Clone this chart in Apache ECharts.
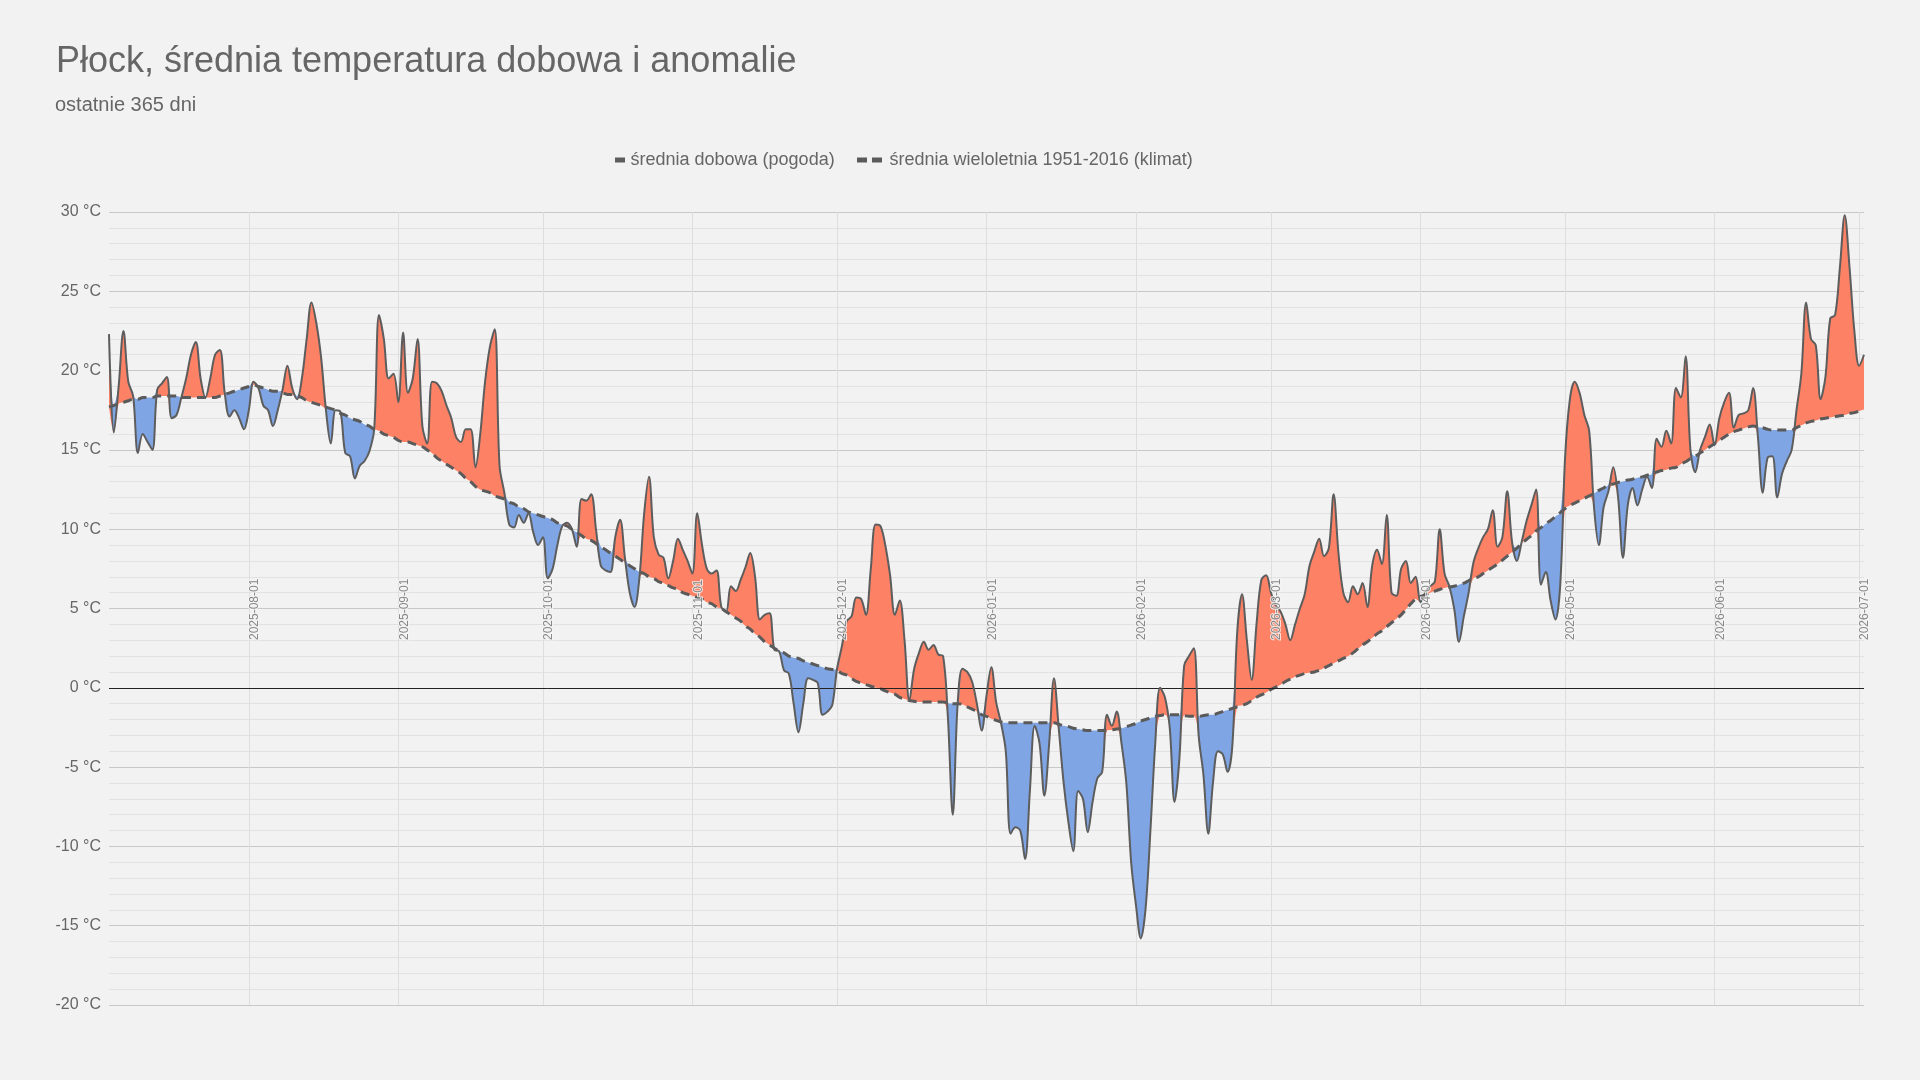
<!DOCTYPE html>
<html>
<head>
<meta charset="utf-8">
<title>Płock, średnia temperatura dobowa i anomalie</title>
<script src="https://cdn.jsdelivr.net/npm/echarts@6/dist/echarts.min.js"></script>
<style>
  html, body { margin: 0; padding: 0; background: #f2f2f2; }
  #chart { width: 1920px; height: 1080px; }
</style>
</head>
<body>
<div id="chart"></div>
<script>
// first day of the series, one value per day after it
const startDate = '2025-07-03';

// daily mean temperature (°C), 10 values per row
const dailyTemp = [
  22.3, 16.1, 19.0, 22.5, 19.3, 18.4, 14.8, 16.0, 15.5, 15.0,
  18.8, 19.2, 19.6, 17.0, 17.2, 18.3, 19.5, 21.0, 21.8, 19.5,
  18.3, 19.5, 21.0, 21.3, 18.6, 17.1, 17.5, 17.0, 16.3, 17.5,
  19.3, 18.9, 17.8, 17.5, 16.5, 17.5, 18.8, 20.3, 18.9, 18.2,
  19.5, 22.0, 24.3, 23.0, 20.8, 17.5, 15.4, 17.5, 17.4, 14.8,
  14.6, 13.2, 14.0, 14.3, 14.9, 16.3, 23.5, 22.0, 19.5, 19.8,
  18.0, 22.4, 18.6, 19.5, 22.0, 16.5, 15.4, 19.3, 19.2, 18.7,
  17.8, 17.0, 15.8, 15.5, 16.3, 16.3, 13.9, 16.0, 19.3, 21.5,
  22.6, 14.0, 12.3, 10.3, 10.1, 10.9, 10.4, 11.0, 9.8, 9.0,
  9.5, 6.9, 7.5, 9.0, 10.2, 10.4, 10.0, 8.9, 11.9, 11.8,
  12.2, 10.0, 7.7, 7.4, 7.3, 9.5, 10.6, 8.2, 6.0, 5.1,
  6.9, 11.0, 13.3, 9.5, 8.4, 8.2, 6.9, 8.0, 9.4, 8.7,
  8.0, 7.2, 11.0, 9.0, 7.5, 7.2, 7.4, 5.1, 4.8, 6.4,
  6.1, 6.8, 7.6, 8.5, 7.0, 4.3, 4.6, 4.7, 2.4, 2.3,
  1.1, 0.9, -1.0, -2.8, -1.0, 0.6, 0.5, 0.3, -1.7, -1.5,
  -1.1, 1.2, 2.6, 4.2, 4.5, 5.7, 5.6, 4.6, 7.5, 10.3,
  10.2, 9.0, 7.1, 4.6, 5.5, 3.0, -0.8, 1.2, 2.2, 2.9,
  2.4, 2.7, 2.1, 2.0, -1.9, -8.0, -1.1, 1.2, 1.0, 0.4,
  -1.0, -2.7, -0.5, 1.3, -0.9, -2.2, -4.0, -9.2, -8.8, -9.0,
  -10.8, -6.5, -2.4, -3.5, -6.8, -3.5, 0.6, -2.6, -6.0, -8.5,
  -10.3, -6.5, -7.0, -9.1, -7.2, -5.7, -5.3, -1.7, -2.4, -1.5,
  -3.5, -6.0, -11.0, -13.7, -15.8, -13.9, -9.0, -3.5, 0.0, -0.6,
  -2.5, -7.2, -4.5, 1.4, 2.0, 2.5, -3.0, -5.5, -9.2, -5.9,
  -4.0, -4.2, -5.3, -3.6, 3.5, 5.9, 3.0, 0.5, 4.0, 6.8,
  7.1, 6.0, 5.2, 4.8, 4.0, 3.0, 4.0, 5.0, 5.9, 7.7,
  8.6, 9.4, 8.3, 8.8, 12.2, 8.5, 6.0, 5.4, 6.4, 5.9,
  6.6, 5.1, 7.7, 8.7, 7.8, 10.9, 6.0, 5.8, 7.5, 8.0,
  6.6, 7.0, 5.4, 6.0, 6.4, 6.7, 10.0, 7.2, 6.4, 5.0,
  2.9, 4.5, 6.0, 7.9, 8.8, 9.5, 10.0, 11.2, 8.9, 9.5,
  12.4, 9.2, 8.0, 9.2, 10.5, 11.5, 12.5, 6.5, 7.3, 5.5,
  4.3, 6.5, 14.5, 18.2, 19.3, 18.6, 17.2, 16.2, 11.4, 9.0,
  11.4, 12.4, 13.9, 12.0, 8.2, 11.5, 12.6, 11.5, 12.5, 13.3,
  12.6, 15.7, 15.2, 16.2, 15.4, 18.9, 18.3, 20.9, 15.0, 13.6,
  15.0, 15.8, 16.6, 15.3, 17.0, 18.0, 18.6, 16.4, 17.2, 17.3,
  17.5, 18.9, 15.8, 12.3, 14.5, 14.6, 12.0, 13.5, 14.3, 15.0,
  17.5, 19.8, 24.3, 22.0, 21.6, 18.2, 19.6, 23.3, 23.5, 26.5,
  29.8, 26.5, 22.5, 20.3, 21.0
];

// long-term mean 1951-2016 (°C) for the same days
const climateTemp = [
  17.7, 17.8, 17.9, 18.0, 18.1, 18.2, 18.2, 18.3, 18.3, 18.3,
  18.4, 18.4, 18.4, 18.4, 18.4, 18.3, 18.3, 18.3, 18.3, 18.3,
  18.3, 18.3, 18.3, 18.4, 18.5, 18.6, 18.7, 18.8, 18.9, 19.0,
  19.1, 19.0, 18.9, 18.8, 18.7, 18.7, 18.6, 18.5, 18.5, 18.4,
  18.3, 18.1, 18.0, 17.9, 17.8, 17.7, 17.6, 17.5, 17.3, 17.2,
  17.0, 16.9, 16.8, 16.6, 16.5, 16.3, 16.2, 16.0, 15.9, 15.8,
  15.6, 15.5, 15.5, 15.4, 15.3, 15.2, 15.0, 14.8, 14.5, 14.3,
  14.1, 13.9, 13.7, 13.5, 13.2, 13.0, 12.7, 12.5, 12.4, 12.3,
  12.1, 12.0, 11.9, 11.7, 11.6, 11.4, 11.3, 11.1, 11.0, 10.9,
  10.8, 10.7, 10.6, 10.4, 10.3, 10.2, 10.0, 9.8, 9.6, 9.4,
  9.3, 9.1, 8.9, 8.7, 8.5, 8.3, 8.1, 7.9, 7.7, 7.5,
  7.3, 7.2, 7.0, 6.9, 6.7, 6.6, 6.45, 6.3, 6.2, 6.0,
  5.9, 5.8, 5.7, 5.6, 5.4, 5.3, 5.1, 5.0, 4.8, 4.6,
  4.4, 4.2, 3.9, 3.7, 3.4, 3.2, 2.9, 2.7, 2.5, 2.3,
  2.2, 2.0, 1.9, 1.85, 1.7, 1.6, 1.5, 1.4, 1.3, 1.2,
  1.15, 1.1, 0.9, 0.8, 0.6, 0.4, 0.3, 0.2, 0.1, 0.0,
  -0.05, -0.2, -0.3, -0.4, -0.6, -0.7, -0.8, -0.85, -0.9, -0.9,
  -0.9, -0.9, -0.9, -0.9, -0.95, -1.0, -1.0, -1.05, -1.2, -1.35,
  -1.5, -1.7, -1.8, -1.95, -2.05, -2.15, -2.2, -2.2, -2.2, -2.2,
  -2.2, -2.2, -2.2, -2.2, -2.2, -2.2, -2.2, -2.3, -2.4, -2.45,
  -2.55, -2.6, -2.65, -2.7, -2.7, -2.7, -2.7, -2.7, -2.65, -2.6,
  -2.55, -2.45, -2.35, -2.25, -2.1, -2.0, -1.9, -1.8, -1.75, -1.7,
  -1.7, -1.7, -1.7, -1.75, -1.8, -1.8, -1.8, -1.75, -1.7, -1.7,
  -1.6, -1.5, -1.4, -1.3, -1.2, -1.1, -1.0, -0.8, -0.6, -0.45,
  -0.3, -0.1, 0.05, 0.2, 0.4, 0.55, 0.7, 0.8, 0.9, 0.95,
  1.0, 1.1, 1.25, 1.4, 1.55, 1.7, 1.85, 2.0, 2.2, 2.45,
  2.7, 2.9, 3.15, 3.4, 3.6, 3.85, 4.1, 4.35, 4.6, 4.95,
  5.3, 5.6, 5.75, 5.85, 6.0, 6.1, 6.2, 6.3, 6.35, 6.4,
  6.5, 6.6, 6.75, 6.9, 7.0, 7.2, 7.4, 7.6, 7.8, 8.05,
  8.3, 8.55, 8.8, 9.1, 9.35, 9.6, 9.9, 10.1, 10.35, 10.55,
  10.8, 11.05, 11.3, 11.5, 11.65, 11.8, 11.95, 12.1, 12.25, 12.45,
  12.6, 12.8, 12.85, 12.95, 13.0, 13.1, 13.15, 13.25, 13.3, 13.4,
  13.5, 13.6, 13.7, 13.75, 13.85, 13.9, 14.1, 14.25, 14.45, 14.6,
  14.8, 15.0, 15.2, 15.4, 15.6, 15.8, 16.0, 16.15, 16.25, 16.35,
  16.45, 16.5, 16.45, 16.4, 16.3, 16.25, 16.25, 16.25, 16.25, 16.25,
  16.4, 16.55, 16.7, 16.8, 16.85, 16.95, 17.0, 17.05, 17.1, 17.15,
  17.2, 17.3, 17.35, 17.45, 17.55
];

const seriesNames = ['średnia dobowa (pogoda)', 'średnia wieloletnia 1951-2016 (klimat)'];

// category labels: one date string per value
const days = [];
const t0 = Date.parse(startDate + 'T00:00:00Z');
for (let i = 0; i < dailyTemp.length; i++) {
  days.push(new Date(t0 + i * 86400000).toISOString().slice(0, 10));
}

// pieces for the coloured band between the two lines
const bandBase = dailyTemp.map((v, i) => Math.min(v, climateTemp[i]));
const bandWarm = dailyTemp.map((v, i) => Math.max(v - climateTemp[i], 0));
const bandCold = dailyTemp.map((v, i) => Math.max(climateTemp[i] - v, 0));

const FONT = 'Liberation Sans, Arial, sans-serif';
const SMOOTH = 0.35;
const isMonthStart = (idx, val) => String(val).slice(8) === '01';

const chart = echarts.init(document.getElementById('chart'));

chart.setOption({
  animation: false,
  backgroundColor: '#f2f2f2',
  textStyle: { fontFamily: FONT },
  title: [
    {
      text: 'Płock, średnia temperatura dobowa i anomalie',
      left: 51, top: 39,
      textStyle: { fontFamily: FONT, fontSize: 36, fontWeight: 'normal', color: '#666' }
    },
    {
      text: 'ostatnie 365 dni',
      left: 50, top: 90,
      textStyle: { fontFamily: FONT, fontSize: 20, fontWeight: 'normal', color: '#666' }
    }
  ],
  legend: [
    {
      data: [{ name: seriesNames[0], icon: 'path://M0,0h8v4h-8z' }],
      left: 610, top: 146,
      itemWidth: 11, itemHeight: 5, itemGap: 10,
      textStyle: { fontFamily: FONT, fontSize: 18, color: '#666' },
      selectedMode: false
    },
    {
      data: [{ name: seriesNames[1], icon: 'path://M0,0h8v4h-8zM12,0h8v4h-8z' }],
      left: 852, top: 146,
      itemWidth: 30, itemHeight: 5,
      textStyle: { fontFamily: FONT, fontSize: 18, color: '#666' },
      selectedMode: false
    }
  ],
  grid: { left: 109, right: 56, top: 212, bottom: 75, containLabel: false },
  xAxis: [
    {
      type: 'category',
      data: days,
      boundaryGap: false,
      position: 'bottom',
      axisLine: { show: false },
      axisTick: { show: false },
      axisLabel: { show: false },
      splitLine: { show: true, interval: isMonthStart, lineStyle: { color: '#dedede', width: 1 } }
    },
    {
      type: 'category',
      data: days,
      boundaryGap: false,
      position: 'bottom',
      z: 10,
      axisLine: { show: false },
      axisTick: { show: false },
      splitLine: { show: false },
      axisLabel: {
        interval: isMonthStart,
        inside: true,
        rotate: 90,
        margin: 365,
        verticalAlign: 'top',
        fontSize: 12,
        color: '#888',
        fontFamily: FONT,
        textBorderColor: 'rgba(245,245,245,0.8)',
        textBorderWidth: 2
      }
    }
  ],
  yAxis: {
    type: 'value',
    min: -20, max: 30, interval: 5,
    axisLine: { show: false },
    axisTick: { show: false },
    axisLabel: { formatter: '{value} °C', fontSize: 16, color: '#666', margin: 8, fontFamily: FONT },
    splitLine: { lineStyle: { color: '#c8c8c8', width: 1 } },
    minorTick: { show: false, splitNumber: 5 },
    minorSplitLine: { show: true, lineStyle: { color: '#e2e2e2', width: 1 } }
  },
  series: [
    {
      name: 'base', type: 'line', stack: 'band', stackStrategy: 'all',
      data: bandBase, smooth: SMOOTH, symbol: 'none', silent: true,
      lineStyle: { width: 0, opacity: 0 }
    },
    {
      name: 'warm', type: 'line', stack: 'band', stackStrategy: 'all',
      data: bandWarm, smooth: SMOOTH, symbol: 'none', silent: true,
      lineStyle: { width: 0, opacity: 0 },
      areaStyle: { color: '#fc8165', opacity: 1 }
    },
    {
      name: 'cold', type: 'line', stack: 'band', stackStrategy: 'all',
      data: bandCold, smooth: SMOOTH, symbol: 'none', silent: true,
      lineStyle: { width: 0, opacity: 0 },
      areaStyle: { color: '#7fa5e4', opacity: 1 }
    },
    {
      name: seriesNames[1], type: 'line', data: climateTemp,
      smooth: SMOOTH, symbol: 'none', z: 4,
      itemStyle: { color: '#5a5a5a' },
      lineStyle: { color: '#5a5a5a', width: 3, type: [9, 6] }
    },
    {
      name: seriesNames[0], type: 'line', data: dailyTemp,
      smooth: SMOOTH, symbol: 'none', z: 5,
      itemStyle: { color: '#5d5d5d' },
      lineStyle: { color: '#5d5d5d', width: 2 },
      markLine: {
        silent: true, symbol: 'none',
        label: { show: false },
        lineStyle: { color: '#222', width: 1, type: 'solid' },
        data: [{ yAxis: 0 }]
      }
    }
  ]
});
</script>
</body>
</html>
